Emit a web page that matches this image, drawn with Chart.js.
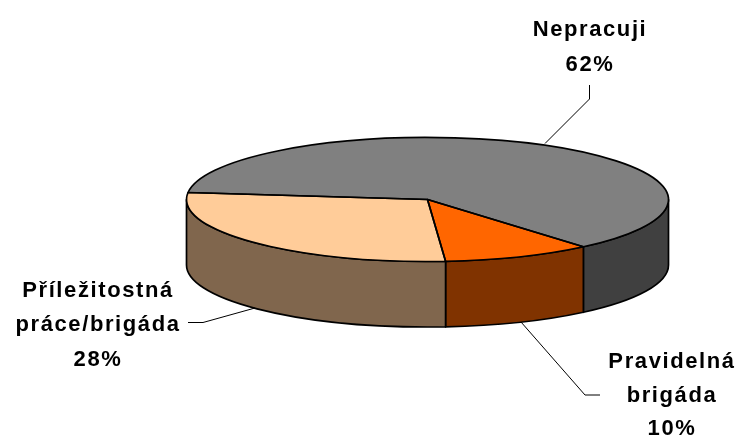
<!DOCTYPE html>
<html>
<head>
<meta charset="utf-8">
<style>html,body{margin:0;padding:0;background:#fff}canvas{display:block}</style>
<script src="https://cdn.jsdelivr.net/npm/chart.js@4"></script>
</head>
<body>
<canvas id="c" width="741" height="438"></canvas>
<script>
const categories = ["Nepracuji", "Pravidelná brigáda", "Příležitostná práce/brigáda"];
const values = [62, 10, 28];
const labelLines = [["Nepracuji"], ["Pravidelná", "brigáda"], ["Příležitostná", "práce/brigáda"]];
const topColors = ["#808080", "#FF6600", "#FFCC99"];
const sideColors = ["#404040", "#803300", "#80664D"];

const ROTATION = -83.5;
const VIEW = { cx: 427.5, cy: 199.5, rx: 241, ry: 62, depth: 65.5 };
const FONT = 'bold 22px "Liberation Sans", Arial, sans-serif';
const SPACING = "1.6px";
const LINE_SETTINGS = [
  { x: 590, ys: [36, 71], leader: [[589.5, 85], [589.5, 99], [545, 143.5]] },
  { x: 672, ys: [368, 402, 435], leader: [[521, 322], [585, 395], [600, 395]] },
  { x: 98, ys: [297, 331, 366], leader: [[188, 322.5], [203, 322.5], [255, 308]] }
];

function arcsOf(chart) { return chart.getDatasetMeta(0).data; }

const pie3d = {
  id: "pie3d",
  beforeDatasetsDraw(chart) {
    const ctx = chart.ctx, { cx, cy, rx, ry, depth } = VIEW;
    // walls, only the part of each slice facing the viewer
    arcsOf(chart).forEach((arc, i) => {
      const norm = a => { const t = Math.PI * 2; return ((a % t) + t) % t; };
      let start = norm(arc.startAngle), end = start + (arc.endAngle - arc.startAngle);
      const ranges = [[start, end], [start - Math.PI * 2, end - Math.PI * 2]];
      ranges.forEach(([s, e]) => {
        const a0 = Math.max(s, 0), a1 = Math.min(e, Math.PI);
        if (a1 <= a0) return;
        ctx.beginPath();
        ctx.ellipse(cx, cy, rx, ry, 0, a0, a1);
        ctx.ellipse(cx, cy + depth, rx, ry, 0, a1, a0, true);
        ctx.closePath();
        ctx.fillStyle = sideColors[i];
        ctx.fill();
        ctx.lineWidth = 1.7;
        ctx.lineJoin = "round";
        ctx.strokeStyle = "#000";
        ctx.stroke();
      });
    });
    const first = arcsOf(chart)[0], r = first.outerRadius;
    ctx.save();
    ctx.translate(cx, cy);
    ctx.scale(rx / r, ry / r);
    ctx.translate(-first.x, -first.y);
  },
  afterDatasetsDraw(chart) {
    const ctx = chart.ctx, { cx, cy, rx, ry } = VIEW;
    ctx.restore();
    arcsOf(chart).forEach(arc => {
      ctx.beginPath();
      ctx.moveTo(cx, cy);
      ctx.ellipse(cx, cy, rx, ry, 0, arc.startAngle, arc.endAngle);
      ctx.closePath();
      ctx.lineWidth = 1.7;
      ctx.lineJoin = "round";
      ctx.strokeStyle = "#000";
      ctx.stroke();
    });
    // leader lines and labels
    ctx.save();
    ctx.font = FONT;
    ctx.letterSpacing = SPACING;
    ctx.textAlign = "center";
    ctx.textBaseline = "alphabetic";
    ctx.fillStyle = "#000";
    values.forEach((v, i) => {
      const set = LINE_SETTINGS[i];
      ctx.beginPath();
      set.leader.forEach(([x, y], k) => k ? ctx.lineTo(x, y) : ctx.moveTo(x, y));
      ctx.lineWidth = 1;
      ctx.strokeStyle = "#000";
      ctx.stroke();
      [...labelLines[i], v + "%"].forEach((t, k) => ctx.fillText(t, set.x, set.ys[k]));
    });
    ctx.restore();
  }
};

new Chart(document.getElementById("c"), {
  type: "pie",
  data: {
    labels: categories,
    datasets: [{ data: values, backgroundColor: topColors, borderWidth: 0, hoverOffset: 0, clip: false }]
  },
  options: {
    responsive: false,
    animation: false,
    rotation: ROTATION,
    layout: { padding: { left: 114 } },
    events: [],
    plugins: { legend: { display: false }, tooltip: { enabled: false }, title: { display: false } }
  },
  plugins: [pie3d]
});
</script>
</body>
</html>
